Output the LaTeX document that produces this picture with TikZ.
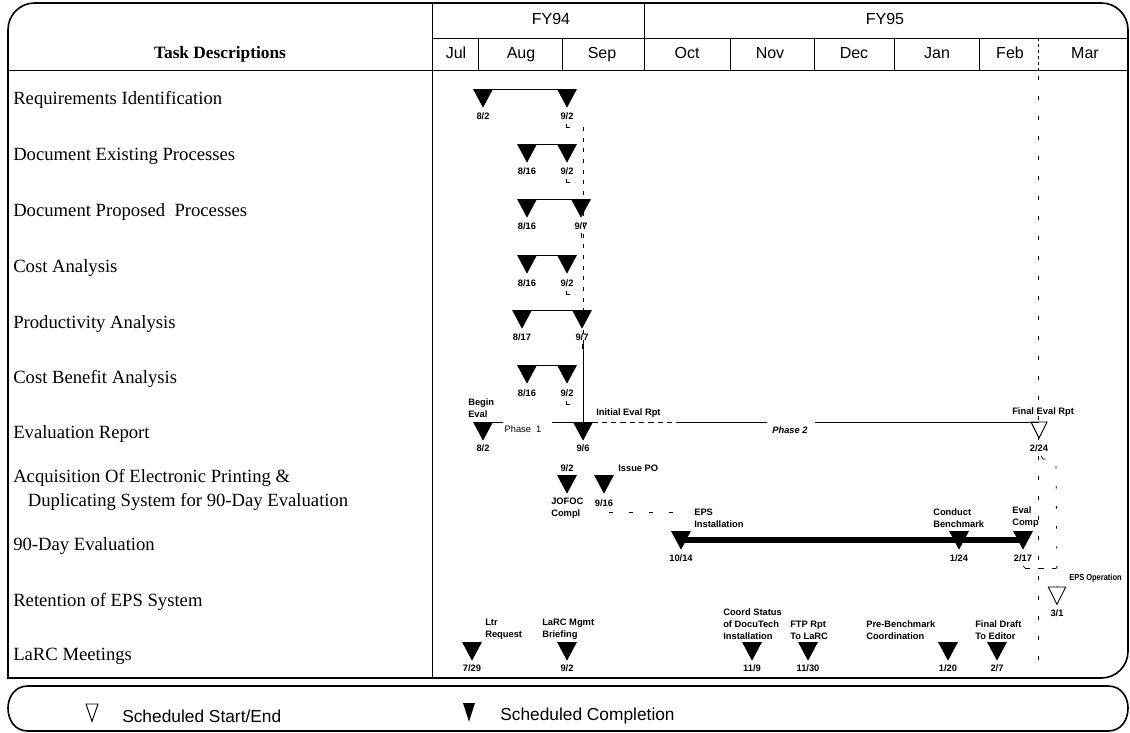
\documentclass[tikz,border=0pt]{standalone}
\usepackage{fontspec}
\setmainfont{Liberation Serif}
\newfontfamily\hsans{Liberation Sans}
\newfontfamily\lsans{Liberation Sans}
\newfontfamily\nsans[FakeStretch=0.85]{Liberation Sans}
\usetikzlibrary{shapes.geometric}
\tikzset{
  frame/.style={line width=1.2pt, line cap=rect},
  grid/.style={line width=0.75pt},
  task/.style={anchor=west, inner sep=0pt, font=\fontsize{14}{16}\selectfont, align=left},
  hdr/.style={inner sep=0pt, anchor=base, font=\hsans\fontsize{12}{14}\selectfont},
  ms/.style={isosceles triangle, isosceles triangle stretches, shape border rotate=-90,
    minimum width=15pt, minimum height=14pt, inner sep=0pt, outer sep=0pt, fill=black, anchor=lower side},
  mo/.style={ms, fill=white, draw=black, line width=0.7pt, minimum width=12pt, minimum height=12pt},
  lbl/.style={inner sep=0pt, font=\lsans\bfseries\fontsize{7}{9}\selectfont, align=left},
  dep/.style={line width=0.6pt, dash pattern=on 3pt off 5pt},
  depw/.style={line width=0.6pt, dash pattern=on 3pt off 12pt},
  bar/.style={line width=3.8pt},
  tick/.style={line width=0.5pt}
}
\begin{document}
\begin{tikzpicture}[x=0.75pt,y=-0.75pt]
\useasboundingbox (0,0) rectangle (1130,732);
% outer frame
\draw[frame] (8,678) -- (8,300) [rounded corners=20pt] -- (8,3) -- (1128,3) -- (1128,678) -- (8,678);
% header grid
\draw[grid] (8,70) -- (1128,70);
\draw[grid] (432,3) -- (432,678);
\draw[grid] (432,38) -- (1128,38);
\draw[grid] (644,3) -- (644,70);
\foreach \x in {478,562,730,814,894,979} \draw[grid] (\x,38) -- (\x,70);
\draw[grid, dash pattern=on 2.5pt off 2pt] (1038,38) -- (1038,70);
\draw[depw] (1038,76) -- (1038,668);
% header text
\node[font=\bfseries\fontsize{13}{15}\selectfont, inner sep=0pt, anchor=base] (hTD) at (220,58) {Task Descriptions};
\node[hdr] (hFY94) at (551,24) {FY94};
\node[hdr] (hFY95) at (885,24) {FY95};
\node[hdr] (mJul) at (456,58) {Jul};
\node[hdr] (mAug) at (521,58) {Aug};
\node[hdr] (mSep) at (602,58) {Sep};
\node[hdr] (mOct) at (687,58) {Oct};
\node[hdr] (mNov) at (770,58) {Nov};
\node[hdr] (mDec) at (854,58) {Dec};
\node[hdr] (mJan) at (937,58) {Jan};
\node[hdr] (mFeb) at (1010,58) {Feb};
\node[hdr] (mMar) at (1085,58) {Mar};
% task descriptions
\node[task] (k1) at (13,100) {Requirements Identification};
\node[task] (k2) at (13,156) {Document Existing Processes};
\node[task] (k3) at (13,212) {Document Proposed\ \ Processes};
\node[task] (k4) at (13,268) {Cost Analysis};
\node[task] (k5) at (13,324) {Productivity Analysis};
\node[task] (k6) at (13,379) {Cost Benefit Analysis};
\node[task] (k7) at (13,434) {Evaluation Report};
\node[task, font=\fontsize{14}{18}\selectfont] (k8) at (13,490) {Acquisition Of Electronic Printing \&\\\hspace*{11pt}Duplicating System for 90-Day Evaluation};
\node[task] (k9) at (13,546) {90-Day Evaluation};
\node[task] (k10) at (13,602) {Retention of EPS System};
\node[task] (k11) at (13,656) {LaRC Meetings};
% dependency lines (behind markers)
\coordinate (v1) at (583,127);
\coordinate (v2) at (583,343);
\draw[dep] (v1) -- (v2);
% row 1-6 markers
\node[ms] (t1a) at (483,89) {};  \node[ms] (t1b) at (567,89) {};
\node[ms] (t2a) at (527,144) {}; \node[ms] (t2b) at (567,144) {};
\node[ms] (t3a) at (527,199) {}; \node[ms] (t3b) at (581,199) {};
\node[ms] (t4a) at (527,255) {}; \node[ms] (t4b) at (567,255) {};
\node[ms] (t5a) at (522,310) {}; \node[ms] (t5b) at (582,310) {};
\node[ms] (t6a) at (527,365) {}; \node[ms] (t6b) at (567,365) {};
\foreach \r in {1,...,6} \draw[grid] (t\r a.lower side) -- (t\r b.lower side);
\node[lbl] (d1a) at (483,116) {8/2};  \node[lbl] (d1b) at (567,116) {9/2};
\node[lbl] (d2a) at (527,171) {8/16}; \node[lbl] (d2b) at (567,171) {9/2};
\node[lbl] (d3a) at (527,226) {8/16}; \node[lbl] (d3b) at (581,226) {9/7};
\node[lbl] (d4a) at (527,283) {8/16}; \node[lbl] (d4b) at (567,283) {9/2};
\node[lbl] (d5a) at (522,337) {8/17}; \node[lbl] (d5b) at (582,337) {9/7};
\node[lbl] (d6a) at (527,393) {8/16}; \node[lbl] (d6b) at (567,393) {9/2};
\foreach \n in {d1b,d2b,d4b,d6b} \draw[tick] (\n.south) ++(-1,4) -- ++(0,4) -- ++(4,0);
\foreach \n in {d3b,d5b} \draw[tick] (\n.south) ++(0,3) -- ++(0,5);
% row 7 evaluation report
\node[ms] (t7a) at (483,422) {};
\node[ms] (t7b) at (583,422) {};
\node[mo] (t7c) at (1039,422) {};
\draw[grid] (v2) -- (t7b.lower side);
\node[lbl, anchor=south west] (b7) at (468,418) {Begin\\Eval};
\node[lbl] (d7a) at (483,448) {8/2};
\node[lbl] (d7b) at (583,448) {9/6};
\node[lbl, anchor=west] (i7) at (596,413) {Initial Eval Rpt};
\node[lbl, anchor=west] (f7) at (1012,412) {Final Eval Rpt};
\node[lbl] (d7c) at (1039,448) {2/24};
\node[inner sep=0pt, font=\lsans\fontsize{7}{9}\selectfont] (p1) at (523,429) {Phase\ \ 1};
\node[inner sep=0pt, font=\lsans\bfseries\itshape\fontsize{7}{9}\selectfont] (p2) at (790,430) {Phase 2};
\coordinate (e1) at (503,422);
\coordinate (e2) at (552,422);
\coordinate (e3) at (677,422);
\coordinate (e4) at (767,422);
\coordinate (e5) at (815,422);
\draw[grid] (t7a.lower side) -- (e1);
\draw[grid] (e2) -- (t7b.lower side);
\draw[line width=0.6pt, dash pattern=on 4pt off 3pt] (t7b.lower side) -- (e3);
\draw[grid] (e3) -- (e4);
\draw[grid] (e5) -- (t7c.lower side);
% row 8 acquisition
\node[ms] (t8a) at (567,475) {};
\node[ms] (t8b) at (604,475) {};
\node[lbl] (d8a) at (567,468) {9/2};
\node[lbl, anchor=north west] (j8) at (551,498) {JOFOC\\Compl};
\node[lbl] (d8b) at (604,503) {9/16};
\node[lbl, anchor=west] (i8) at (618,468) {Issue PO};
% row 9 90-day evaluation
\node[ms] (t9a) at (681,531) {};
\node[ms] (t9b) at (959,531) {};
\node[ms] (t9c) at (1023,531) {};
\draw[bar] (t9a.center |- 0,540) -- (t9c.center |- 0,540);
\node[lbl, anchor=south west] (n9a) at (694,528) {EPS\\Installation};
\node[lbl, anchor=south west] (n9b) at (933,528) {Conduct\\Benchmark};
\node[lbl, anchor=south west] (n9c) at (1012,528) {Eval\\Comp};
\node[lbl] (d9a) at (681,558) {10/14};
\node[lbl] (d9b) at (959,558) {1/24};
\node[lbl] (d9c) at (1023,558) {2/17};
\coordinate (q1) at (609,512);
\coordinate (q2) at (681,512);
\draw[line width=0.6pt, dash pattern=on 3pt off 12pt] (q1) -- (q2) -- (681,516);
% row 10 retention
\node[mo, minimum width=13pt, minimum height=13pt] (t10) at (1057,587) {};
\node[lbl] (d10) at (1057,613) {3/1};
\node[inner sep=0pt, anchor=west, font=\nsans\bfseries\fontsize{6.6}{8}\selectfont] (n10) at (1069,578) {EPS Operation};
\coordinate (w1) at (1043,459);
\coordinate (w2) at (1056,459);
\coordinate (w3) at (1025,568);
\draw[tick] (d7c.south) ++(2,4) -- (w1);
\draw[line width=0.6pt, dash pattern=on 2pt off 13pt] (w1) -- (w2) -- (t10.lower side);
\draw[tick] (d9c.south) ++(0,4) -- (w3);
\draw[line width=0.6pt, dash pattern=on 4pt off 6pt] (w3) -- (1056,568);
% row 11 LaRC meetings
\node[ms] (t11a) at (472,642) {};
\node[ms] (t11b) at (567,642) {};
\node[ms] (t11c) at (752,642) {};
\node[ms] (t11d) at (808,642) {};
\node[ms] (t11e) at (948,642) {};
\node[ms] (t11f) at (997,642) {};
\node[lbl] (d11a) at (472,668) {7/29};
\node[lbl] (d11b) at (567,668) {9/2};
\node[lbl] (d11c) at (752,668) {11/9};
\node[lbl] (d11d) at (808,668) {11/30};
\node[lbl] (d11e) at (948,668) {1/20};
\node[lbl] (d11f) at (997,668) {2/7};
\node[lbl, anchor=south west] (n11a) at (485,640) {Ltr\\Request};
\node[lbl, anchor=south west] (n11b) at (542,640) {LaRC Mgmt\\Briefing};
\node[lbl, anchor=south west] (n11c) at (723,640) {Coord Status\\of DocuTech\\Installation};
\node[lbl, anchor=south west] (n11d) at (790,640) {FTP Rpt\\To LaRC};
\node[lbl, anchor=south west] (n11e) at (866,640) {Pre-Benchmark\\Coordination};
\node[lbl, anchor=south west] (n11f) at (975,640) {Final Draft\\To Editor};
% legend
\draw[frame] (28,686) -- (1108,686) .. controls (1122,686) and (1128,698) .. (1128,708)
  .. controls (1128,719) and (1122,731) .. (1108,731) -- (28,731)
  .. controls (14,731) and (8,719) .. (8,708) .. controls (8,698) and (14,686) .. (28,686) -- cycle;
\node[mo, minimum width=9pt, minimum height=13pt] (lg1) at (92,704) {};
\node[anchor=west, inner sep=0pt, font=\hsans\fontsize{13}{15}\selectfont] (lt1) at (122,716) {Scheduled Start/End};
\node[ms, minimum width=9pt, minimum height=14pt] (lg2) at (469,703) {};
\node[anchor=west, inner sep=0pt, font=\hsans\fontsize{13}{15}\selectfont] (lt2) at (500,716) {Scheduled Completion};
\end{tikzpicture}
\end{document}
